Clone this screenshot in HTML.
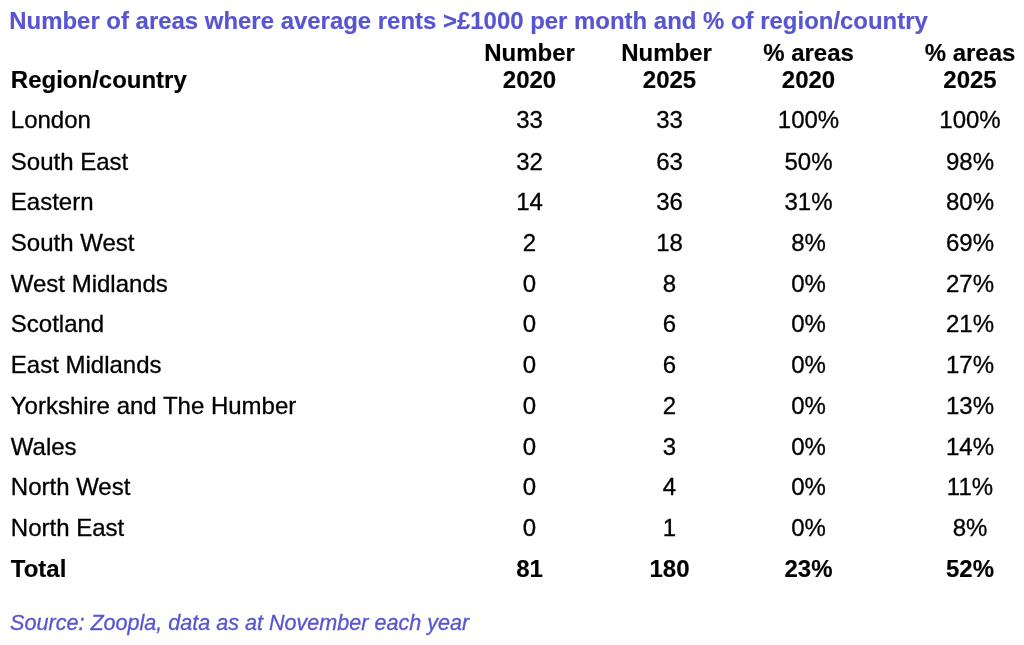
<!DOCTYPE html>
<html lang="en"><head><meta charset="utf-8"><title>Rents table</title>
<style>
html,body{margin:0;padding:0;background:#fff;}
body{width:1024px;height:645px;position:relative;overflow:hidden;font-family:"Liberation Sans",sans-serif;color:#000;}
.t{position:absolute;white-space:nowrap;line-height:1;margin:0;padding:0;}
.b{font-weight:bold;}
.t{-webkit-text-stroke:0.3px currentColor;}
.t.b{-webkit-text-stroke:0.15px currentColor;}
.c{transform:translateX(-50%);text-align:center;}
</style></head><body>
<div class="t b" style="left:9.25px;top:9.23px;font-size:23.94px;color:#5755d0">Number of areas where average rents &gt;£1000 per month and % of region/country</div>
<div class="t b" style="left:10.8px;top:68.00px;font-size:24px">Region/country</div>
<div class="t b c" style="left:529.5px;top:41.00px;font-size:24px">Number</div>
<div class="t b c" style="left:529.5px;top:68.00px;font-size:24px">2020</div>
<div class="t b c" style="left:666.5px;top:41.00px;font-size:24px">Number</div>
<div class="t b c" style="left:669.5px;top:68.00px;font-size:24px">2025</div>
<div class="t b c" style="left:808.5px;top:41.00px;font-size:24px">% areas</div>
<div class="t b c" style="left:808.5px;top:68.00px;font-size:24px">2020</div>
<div class="t b c" style="left:970px;top:41.00px;font-size:24px">% areas</div>
<div class="t b c" style="left:970px;top:68.00px;font-size:24px">2025</div>
<div class="t" style="left:10.8px;top:108.00px;font-size:24px">London</div>
<div class="t c" style="left:529.5px;top:108.00px;font-size:24px">33</div>
<div class="t c" style="left:669.5px;top:108.00px;font-size:24px">33</div>
<div class="t c" style="left:808.5px;top:108.00px;font-size:24px">100%</div>
<div class="t c" style="left:970px;top:108.00px;font-size:24px">100%</div>
<div class="t" style="left:10.8px;top:150.00px;font-size:24px">South East</div>
<div class="t c" style="left:529.5px;top:150.00px;font-size:24px">32</div>
<div class="t c" style="left:669.5px;top:150.00px;font-size:24px">63</div>
<div class="t c" style="left:808.5px;top:150.00px;font-size:24px">50%</div>
<div class="t c" style="left:970px;top:150.00px;font-size:24px">98%</div>
<div class="t" style="left:10.8px;top:190.00px;font-size:24px">Eastern</div>
<div class="t c" style="left:529.5px;top:190.00px;font-size:24px">14</div>
<div class="t c" style="left:669.5px;top:190.00px;font-size:24px">36</div>
<div class="t c" style="left:808.5px;top:190.00px;font-size:24px">31%</div>
<div class="t c" style="left:970px;top:190.00px;font-size:24px">80%</div>
<div class="t" style="left:10.8px;top:231.00px;font-size:24px">South West</div>
<div class="t c" style="left:529.5px;top:231.00px;font-size:24px">2</div>
<div class="t c" style="left:669.5px;top:231.00px;font-size:24px">18</div>
<div class="t c" style="left:808.5px;top:231.00px;font-size:24px">8%</div>
<div class="t c" style="left:970px;top:231.00px;font-size:24px">69%</div>
<div class="t" style="left:10.8px;top:272.00px;font-size:24px">West Midlands</div>
<div class="t c" style="left:529.5px;top:272.00px;font-size:24px">0</div>
<div class="t c" style="left:669.5px;top:272.00px;font-size:24px">8</div>
<div class="t c" style="left:808.5px;top:272.00px;font-size:24px">0%</div>
<div class="t c" style="left:970px;top:272.00px;font-size:24px">27%</div>
<div class="t" style="left:10.8px;top:312.00px;font-size:24px">Scotland</div>
<div class="t c" style="left:529.5px;top:312.00px;font-size:24px">0</div>
<div class="t c" style="left:669.5px;top:312.00px;font-size:24px">6</div>
<div class="t c" style="left:808.5px;top:312.00px;font-size:24px">0%</div>
<div class="t c" style="left:970px;top:312.00px;font-size:24px">21%</div>
<div class="t" style="left:10.8px;top:353.00px;font-size:24px">East Midlands</div>
<div class="t c" style="left:529.5px;top:353.00px;font-size:24px">0</div>
<div class="t c" style="left:669.5px;top:353.00px;font-size:24px">6</div>
<div class="t c" style="left:808.5px;top:353.00px;font-size:24px">0%</div>
<div class="t c" style="left:970px;top:353.00px;font-size:24px">17%</div>
<div class="t" style="left:10.8px;top:394.00px;font-size:24px">Yorkshire and The Humber</div>
<div class="t c" style="left:529.5px;top:394.00px;font-size:24px">0</div>
<div class="t c" style="left:669.5px;top:394.00px;font-size:24px">2</div>
<div class="t c" style="left:808.5px;top:394.00px;font-size:24px">0%</div>
<div class="t c" style="left:970px;top:394.00px;font-size:24px">13%</div>
<div class="t" style="left:10.8px;top:435.00px;font-size:24px">Wales</div>
<div class="t c" style="left:529.5px;top:435.00px;font-size:24px">0</div>
<div class="t c" style="left:669.5px;top:435.00px;font-size:24px">3</div>
<div class="t c" style="left:808.5px;top:435.00px;font-size:24px">0%</div>
<div class="t c" style="left:970px;top:435.00px;font-size:24px">14%</div>
<div class="t" style="left:10.8px;top:475.00px;font-size:24px">North West</div>
<div class="t c" style="left:529.5px;top:475.00px;font-size:24px">0</div>
<div class="t c" style="left:669.5px;top:475.00px;font-size:24px">4</div>
<div class="t c" style="left:808.5px;top:475.00px;font-size:24px">0%</div>
<div class="t c" style="left:970px;top:475.00px;font-size:24px">11%</div>
<div class="t" style="left:10.8px;top:516.00px;font-size:24px">North East</div>
<div class="t c" style="left:529.5px;top:516.00px;font-size:24px">0</div>
<div class="t c" style="left:669.5px;top:516.00px;font-size:24px">1</div>
<div class="t c" style="left:808.5px;top:516.00px;font-size:24px">0%</div>
<div class="t c" style="left:970px;top:516.00px;font-size:24px">8%</div>
<div class="t b" style="left:10.8px;top:557.00px;font-size:24px">Total</div>
<div class="t c b" style="left:529.5px;top:557.00px;font-size:24px">81</div>
<div class="t c b" style="left:669.5px;top:557.00px;font-size:24px">180</div>
<div class="t c b" style="left:808.5px;top:557.00px;font-size:24px">23%</div>
<div class="t c b" style="left:970px;top:557.00px;font-size:24px">52%</div>
<div class="t" style="left:10.1px;top:612.24px;font-size:21.57px;color:#5755d0;font-style:italic">Source: Zoopla, data as at November each year</div>
</body></html>
